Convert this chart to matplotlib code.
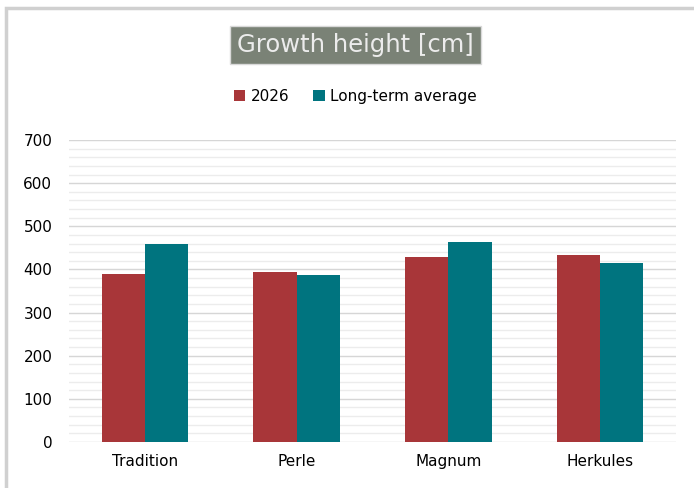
import numpy as np
import matplotlib
matplotlib.use("Agg")
import matplotlib.pyplot as plt
from matplotlib.patches import Rectangle

categories = ["Tradition", "Perle", "Magnum", "Herkules"]
series_names = ["2026", "Long-term average"]
values_2026 = [389, 394, 429, 434]
values_avg = [458, 388, 463, 416]
colors = ["#a83639", "#00747f"]

fig = plt.figure(figsize=(6.94, 4.88), dpi=100)
ax = fig.add_axes([0.0994, 0.0943, 0.8746, 0.6187])

x = np.arange(len(categories))
w = 0.285
ax.bar(x - w / 2, values_2026, w, color=colors[0], label=series_names[0], zorder=3)
ax.bar(x + w / 2, values_avg, w, color=colors[1], label=series_names[1], zorder=3)

ax.set_xlim(-0.5, len(categories) - 0.5)
ax.set_ylim(0, 700)
ax.set_yticks(np.arange(0, 701, 100))
ax.set_yticks(np.arange(0, 701, 20), minor=True)
ax.grid(True, which="minor", axis="y", color="#ececec", lw=1.0, zorder=0)
ax.grid(True, which="major", axis="y", color="#d6d6d6", lw=1.0, zorder=1)
for s in ax.spines.values():
    s.set_visible(False)
ax.tick_params(axis="both", which="both", length=0, labelsize=11, colors="black")
ax.tick_params(axis="y", pad=12)
ax.tick_params(axis="x", pad=9)
ax.set_xticks(x)
ax.set_xticklabels(categories)

# outer chart border
fig.patches.append(Rectangle((6 / 694, -0.1), 1.1, 1.1 - 8 / 488, transform=fig.transFigure,
                             fill=False, ec="#d0d0d0", lw=2.5))

fig.text(0.512, 0.908, "Growth height [cm]", ha="center", va="center", fontsize=17.5,
         color="#ececec",
         bbox=dict(boxstyle="square,pad=0.3", fc="#7a8276", ec="#d9d9d9", lw=1))

fig.legend(loc="center", bbox_to_anchor=(0.512, 0.802), ncol=2, frameon=False,
           fontsize=11, handlelength=0.75, handleheight=0.75, handletextpad=0.35,
           columnspacing=1.6)

fig.savefig("out.png", dpi=100)
